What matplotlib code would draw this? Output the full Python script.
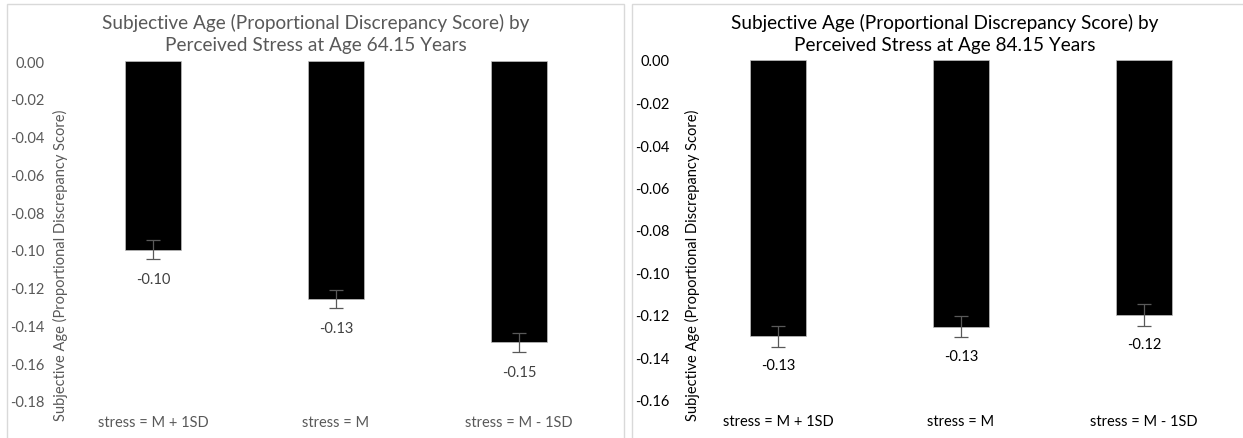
import matplotlib
matplotlib.use("Agg")
from matplotlib import pyplot as plt
from matplotlib.patches import Rectangle

plt.rcParams['font.family'] = ['Lato', 'DejaVu Sans']

# chart data
categories = ["stress = M + 1SD", "stress = M", "stress = M - 1SD"]
age64_values = [-0.100, -0.126, -0.149]
age64_errors = [0.005, 0.005, 0.005]
age84_values = [-0.130, -0.1255, -0.120]
age84_errors = [0.005, 0.005, 0.005]

age64_ticks = [0.00, -0.02, -0.04, -0.06, -0.08, -0.10, -0.12, -0.14, -0.16, -0.18]
age84_ticks = [0.00, -0.02, -0.04, -0.06, -0.08, -0.10, -0.12, -0.14, -0.16]

titles = ["Subjective Age (Proportional Discrepancy Score) by\nPerceived Stress at Age 64.15 Years",
          "Subjective Age (Proportional Discrepancy Score) by\nPerceived Stress at Age 84.15 Years"]
ylabel = "Subjective Age (Proportional Discrepancy Score)"

W, H = 1243, 439
fig = plt.figure(figsize=(W / 100, H / 100), dpi=100)


def px(x0, y0, x1, y1):
    # pixel box (top-left origin) -> figure fraction rect
    return [x0 / W, (H - y1) / H, (x1 - x0) / W, (y1 - y0) / H]


# light panel borders
for x0, x1 in [(7, 624), (632, 1260)]:
    fig.patches.append(Rectangle((x0 / W, -0.1), (x1 - x0) / W, (H - 5) / H + 0.1,
                                 transform=fig.transFigure, fill=False,
                                 edgecolor='#d9d9d9', linewidth=1.0))

panels = [
    dict(box=px(61.5, 62, 610.5, 402), vals=age64_values, errs=age64_errors,
         ticks=age64_ticks, color='#595959', label_color='#404040',
         title_x=315.5, ylabel_x=60),
    dict(box=px(686.5, 61, 1235.5, 401), vals=age84_values, errs=age84_errors,
         ticks=age84_ticks, color='#000000', label_color='#000000',
         title_x=945, ylabel_x=692),
]

for i, p in enumerate(panels):
    ax = fig.add_axes(p['box'])
    x = range(len(categories))
    ax.bar(x, p['vals'], width=0.31, color='black', edgecolor='#bfbfbf', linewidth=0.5)
    ax.errorbar(x, p['vals'], yerr=p['errs'], fmt='none', ecolor='#595959',
                elinewidth=0.9, capsize=5, capthick=0.9)
    for xi, v in zip(x, p['vals']):
        ax.annotate(f"{v:.2f}", (xi, v), xytext=(0, -21), textcoords='offset points',
                    ha='center', va='center', fontsize=10.5, color=p['label_color'])
    ax.set_xlim(-0.5, 2.5)
    ax.set_ylim(p['ticks'][-1], 0)
    ax.set_yticks(p['ticks'])
    ax.set_yticklabels([f"{t:.2f}" for t in p['ticks']])
    ax.set_xticks(list(x))
    ax.set_xticklabels(categories)
    ax.tick_params(axis='both', length=0, labelsize=10.5, labelcolor=p['color'])
    ax.tick_params(axis='y', pad=12)
    ax.tick_params(axis='x', pad=10)
    for s in ax.spines.values():
        s.set_visible(False)
    ax.patch.set_alpha(0)

    fig.text(p['title_x'] / W, (H - 34) / H, titles[i], ha='center', va='center',
             fontsize=13.7, color=p['color'], linespacing=1.42)
    fig.text(p['ylabel_x'] / W, (H - 265) / H, ylabel, rotation=90,
             ha='center', va='center', fontsize=10.5, color=p['color'])

fig.savefig("out.png", dpi=100)
